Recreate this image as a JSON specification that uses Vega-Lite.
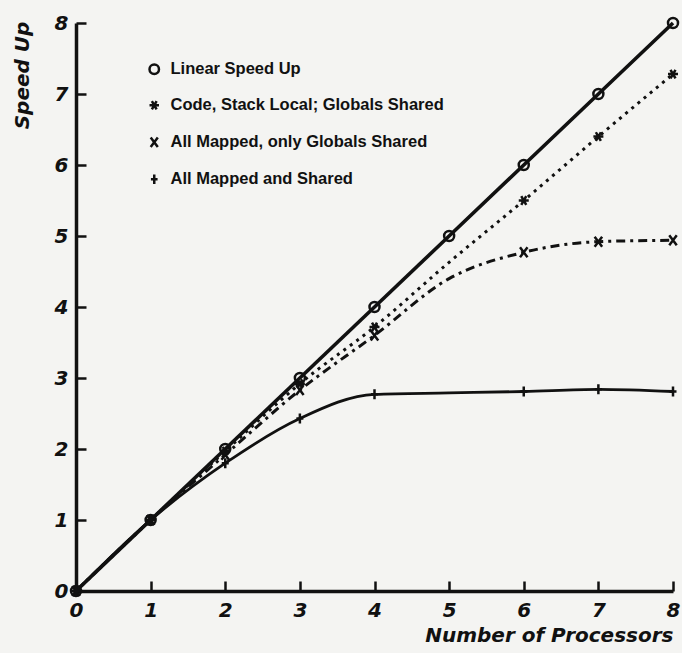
{
  "$schema": "https://vega.github.io/schema/vega-lite/v6.json",
  "width": 597,
  "height": 568,
  "autosize": {"type": "none"},
  "padding": {"left": 76, "top": 23, "right": 9, "bottom": 62},
  "background": "#f4f4f2",
  "config": {
    "view": {"stroke": null},
    "font": "DejaVu Sans",
    "axis": {
      "grid": false,
      "domainColor": "#111",
      "domainWidth": 3.5,
      "tickColor": "#111",
      "tickWidth": 2.5,
      "labelColor": "#111",
      "labelFont": "DejaVu Sans",
      "labelFontSize": 20,
      "labelFontWeight": "bold",
      "labelFontStyle": "italic",
      "titleColor": "#111",
      "titleFont": "DejaVu Sans",
      "titleFontSize": 20,
      "titleFontWeight": "bold",
      "titleFontStyle": "italic"
    }
  },
  "data": {
    "values": [
      {"series": "Linear Speed Up", "x": 0, "y": 0},
      {"series": "Linear Speed Up", "x": 1, "y": 1},
      {"series": "Linear Speed Up", "x": 2, "y": 2},
      {"series": "Linear Speed Up", "x": 3, "y": 3},
      {"series": "Linear Speed Up", "x": 4, "y": 4},
      {"series": "Linear Speed Up", "x": 5, "y": 5},
      {"series": "Linear Speed Up", "x": 6, "y": 6},
      {"series": "Linear Speed Up", "x": 7, "y": 7},
      {"series": "Linear Speed Up", "x": 8, "y": 8},
      {"series": "Code, Stack Local; Globals Shared", "x": 0, "y": 0},
      {"series": "Code, Stack Local; Globals Shared", "x": 1, "y": 1},
      {"series": "Code, Stack Local; Globals Shared", "x": 2, "y": 1.97},
      {"series": "Code, Stack Local; Globals Shared", "x": 3, "y": 2.92},
      {"series": "Code, Stack Local; Globals Shared", "x": 4, "y": 3.72},
      {"series": "Code, Stack Local; Globals Shared", "x": 5, "y": 4.63},
      {"series": "Code, Stack Local; Globals Shared", "x": 6, "y": 5.5},
      {"series": "Code, Stack Local; Globals Shared", "x": 7, "y": 6.4},
      {"series": "Code, Stack Local; Globals Shared", "x": 8, "y": 7.28},
      {"series": "All Mapped, only Globals Shared", "x": 0, "y": 0},
      {"series": "All Mapped, only Globals Shared", "x": 1, "y": 1},
      {"series": "All Mapped, only Globals Shared", "x": 2, "y": 1.92},
      {"series": "All Mapped, only Globals Shared", "x": 3, "y": 2.83},
      {"series": "All Mapped, only Globals Shared", "x": 4, "y": 3.6},
      {"series": "All Mapped, only Globals Shared", "x": 5, "y": 4.4},
      {"series": "All Mapped, only Globals Shared", "x": 6, "y": 4.77},
      {"series": "All Mapped, only Globals Shared", "x": 7, "y": 4.92},
      {"series": "All Mapped, only Globals Shared", "x": 8, "y": 4.94},
      {"series": "All Mapped and Shared", "x": 0, "y": 0},
      {"series": "All Mapped and Shared", "x": 1, "y": 1},
      {"series": "All Mapped and Shared", "x": 2, "y": 1.8},
      {"series": "All Mapped and Shared", "x": 3, "y": 2.43},
      {"series": "All Mapped and Shared", "x": 4, "y": 2.77},
      {"series": "All Mapped and Shared", "x": 5, "y": 2.79},
      {"series": "All Mapped and Shared", "x": 6, "y": 2.81},
      {"series": "All Mapped and Shared", "x": 7, "y": 2.84},
      {"series": "All Mapped and Shared", "x": 8, "y": 2.81}
    ]
  },
  "encoding": {
    "x": {
      "field": "x", "type": "quantitative",
      "scale": {"domain": [0, 8], "nice": false, "zero": false},
      "axis": {
        "values": [0, 1, 2, 3, 4, 5, 6, 7, 8],
        "tickSize": -10,
        "labelPadding": 19,
        "labelFlush": false,
        "title": "Number of Processors",
        "titleAnchor": "end",
        "titleAlign": "right",
        "titleX": 597,
        "titleY": 50,
        "titleBaseline": "alphabetic"
      }
    },
    "y": {
      "field": "y", "type": "quantitative",
      "scale": {"domain": [0, 8], "nice": false},
      "axis": {
        "values": [0, 1, 2, 3, 4, 5, 6, 7, 8],
        "tickSize": -10,
        "labelPadding": 18,
        "labelFlush": false,
        "title": "Speed Up",
        "titleAngle": 270,
        "titleAlign": "center",
        "titleBaseline": "middle",
        "titleX": -54,
        "titleY": 52
      }
    }
  },
  "layer": [
    {
      "transform": [{"filter": "datum.series == 'Linear Speed Up'"}],
      "mark": {"type": "line", "color": "#111", "strokeWidth": 3.6}
    },
    {
      "transform": [{"filter": "datum.series == 'Code, Stack Local; Globals Shared'"}],
      "mark": {"type": "line", "interpolate": "monotone", "color": "#111", "strokeWidth": 3, "strokeDash": [3, 5]}
    },
    {
      "transform": [{"filter": "datum.series == 'All Mapped, only Globals Shared'"}],
      "mark": {"type": "line", "interpolate": "monotone", "color": "#111", "strokeWidth": 3, "strokeDash": [9, 5, 3, 5]}
    },
    {
      "transform": [{"filter": "datum.series == 'All Mapped and Shared'"}],
      "mark": {"type": "line", "interpolate": "monotone", "color": "#111", "strokeWidth": 2.8}
    },
    {
      "transform": [{"filter": "datum.x != 5 || datum.series == 'Linear Speed Up'"}],
      "mark": {"type": "point", "filled": false, "color": "#111", "strokeWidth": 2.5, "opacity": 1},
      "encoding": {
        "shape": {
          "field": "series", "type": "nominal",
          "scale": {
            "domain": ["Linear Speed Up", "Code, Stack Local; Globals Shared", "All Mapped, only Globals Shared", "All Mapped and Shared"],
            "range": ["circle", "M-1,0L1,0M-0.5,-0.87L0.5,0.87M-0.5,0.87L0.5,-0.87", "M-0.75,-1L0.75,1M-0.75,1L0.75,-1", "M0,-1L0,1M-0.7,0L0.7,0"]
          },
          "legend": {
            "title": null,
            "orient": "none",
            "legendX": 70,
            "legendY": 38,
            "labelFont": "Liberation Sans",
            "labelFontSize": 16.5,
            "labelFontWeight": "bold",
            "labelColor": "#111",
            "labelLimit": 400,
            "rowPadding": 17,
            "symbolSize": 90,
            "symbolStrokeWidth": 2.5,
            "symbolStrokeColor": "#111",
            "symbolFillColor": "transparent",
            "labelOffset": 8
          }
        },
        "size": {"value": 100}
      }
    }
  ]
}
